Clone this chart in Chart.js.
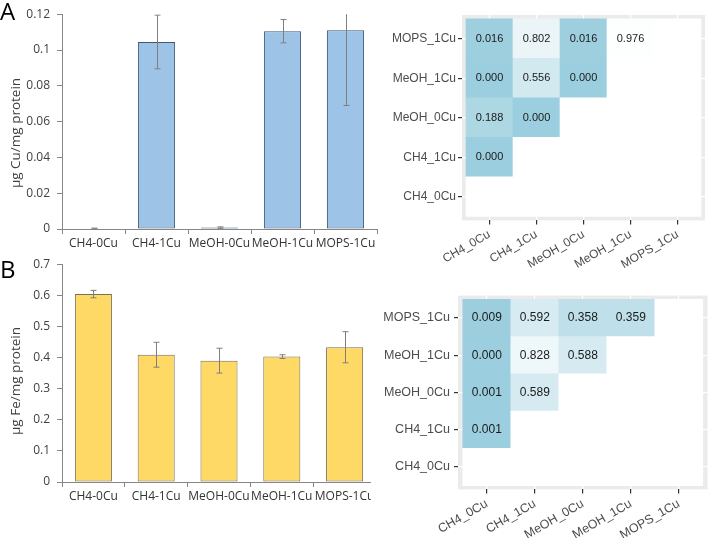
<!DOCTYPE html>
<html>
<head>
<meta charset="utf-8">
<script src="https://cdn.jsdelivr.net/npm/chart.js@4"></script>
<style>
  body { margin: 0; background: #fff; width: 709px; height: 538px; position: relative; overflow: hidden; }
  .panel { position: absolute; }
  .letra { position: absolute; font-family: 'Open Sans'; font-size: 24px; line-height: 24px; color: #000; }
</style>
</head>
<body>
<div class="panel" style="left:0;top:0"><canvas id="barrasCu" width="380" height="256"></canvas></div>
<div class="panel" style="left:0;top:250px;width:371px;height:288px;overflow:hidden"><canvas id="barrasFe" width="380" height="288"></canvas></div>
<div class="panel" style="left:360px;top:0"><canvas id="mapaCu" width="349" height="268"></canvas></div>
<div class="panel" style="left:360px;top:268px"><canvas id="mapaFe" width="349" height="270"></canvas></div>
<div class="letra" style="left:0;top:-1px">A</div>
<div class="letra" style="left:0;top:257px">B</div>
<script>
// muestras de las barras
const grupos = ['CH4-0Cu', 'CH4-1Cu', 'MeOH-0Cu', 'MeOH-1Cu', 'MOPS-1Cu'];
const cobre = [0.0003, 0.1045, 0.0008, 0.1105, 0.111];
const cobreError = [0.0002, 0.015, 0.0004, 0.0065, 0.042];
const hierro = [0.604, 0.409, 0.390, 0.403, 0.433];
const hierroError = [0.012, 0.040, 0.040, 0.006, 0.050];

// condiciones de las matrices de p (fila 0 = abajo)
const condiciones = ['CH4_0Cu', 'CH4_1Cu', 'MeOH_0Cu', 'MeOH_1Cu', 'MOPS_1Cu'];
const pCu = [
  [null, null, null, null, null],
  [0.000, null, null, null, null],
  [0.188, 0.000, null, null, null],
  [0.000, 0.556, 0.000, null, null],
  [0.016, 0.802, 0.016, 0.976, null]
];
const pFe = [
  [null, null, null, null, null],
  [0.001, null, null, null, null],
  [0.001, 0.589, null, null, null],
  [0.000, 0.828, 0.588, null, null],
  [0.009, 0.592, 0.358, 0.359, null]
];

const barrasError = {
  id: 'barrasError',
  afterDatasetsDraw(chart) {
    const { ctx, chartArea, scales: { y } } = chart;
    const ds = chart.data.datasets[0];
    ctx.save();
    ctx.beginPath();
    ctx.rect(chartArea.left, chartArea.top, chartArea.width, chartArea.height);
    ctx.clip();
    ctx.strokeStyle = '#7f7f7f';
    ctx.lineWidth = 1;
    chart.getDatasetMeta(0).data.forEach((barra, i) => {
      const y1 = y.getPixelForValue(ds.data[i] - ds.errores[i]);
      const y2 = y.getPixelForValue(ds.data[i] + ds.errores[i]);
      const x = Math.round(barra.x) + 0.5;
      ctx.beginPath();
      ctx.moveTo(x, y1); ctx.lineTo(x, y2);
      ctx.moveTo(x - 3, y1); ctx.lineTo(x + 3, y1);
      ctx.moveTo(x - 3, y2); ctx.lineTo(x + 3, y2);
      ctx.stroke();
    });
    ctx.restore();
  }
};

const tituloEje = {
  id: 'tituloEje',
  afterDraw(chart, args, opts) {
    const { ctx } = chart;
    ctx.save();
    ctx.translate(opts.x, opts.y);
    ctx.rotate(-Math.PI / 2);
    ctx.font = '13.5px "Open Sans"';
    ctx.fillStyle = '#404040';
    ctx.textAlign = 'center';
    ctx.textBaseline = 'middle';
    ctx.fillText(opts.texto, 0, 0);
    ctx.restore();
  }
};

function graficoBarras(id, valores, errores, relleno, borde, maxY, paso, titulo, caja) {
  new Chart(document.getElementById(id), {
    type: 'bar',
    data: {
      labels: grupos,
      datasets: [{
        data: valores,
        errores: errores,
        backgroundColor: relleno,
        borderColor: borde,
        borderWidth: 1,
        borderSkipped: false,
        barPercentage: 0.59,
        categoryPercentage: 1
      }]
    },
    options: {
      responsive: false,
      animation: false,
      layout: { padding: { top: caja.arriba, right: caja.derecha, left: 0, bottom: 0 } },
      plugins: {
        legend: { display: false },
        tooltip: { enabled: false },
        tituloEje: { texto: titulo, x: 16, y: caja.tituloY }
      },
      scales: {
        x: {
          grid: { offset: true, drawOnChartArea: false, color: '#868686', tickLength: 5 },
          border: { color: '#868686' },
          ticks: { color: '#333333', font: { family: 'Open Sans', size: 12 }, padding: 2, maxRotation: 0, autoSkip: false },
          afterFit: s => { s.height = caja.altoX; }
        },
        y: {
          min: 0,
          max: maxY,
          ticks: {
            stepSize: paso,
            color: '#404040',
            font: { family: 'Open Sans', size: 12 },
            padding: 7,
            callback: v => String(+v.toFixed(2))
          },
          grid: { drawOnChartArea: false, color: '#868686', tickLength: 5 },
          border: { color: '#868686' },
          afterFit: s => { s.width = 62; }
        }
      }
    },
    plugins: [barrasError, tituloEje]
  });
}

graficoBarras('barrasCu', cobre, cobreError, '#9dc3e6', '#3b5877', 0.12, 0.02,
  'µg Cu/mg protein', { arriba: 6, derecha: 3, altoX: 27, tituloY: 133 });
graficoBarras('barrasFe', hierro, hierroError, '#ffd966', '#7a6f50', 0.7, 0.1,
  'µg Fe/mg protein', { arriba: 8.7, derecha: 4, altoX: 56, tituloY: 131 });

// matrices de p
function colorP(p) {
  if (p === null) return '#ffffff';
  return `rgb(${Math.round(155 + 100 * p)},${Math.round(206 + 49 * p)},${Math.round(222 + 33 * p)})`;
}

const fondoPanel = {
  id: 'fondoPanel',
  beforeDraw(chart) {
    const { ctx, chartArea: a } = chart;
    ctx.save();
    ctx.fillStyle = '#ebebeb';
    ctx.fillRect(a.left, a.top, a.width, a.height);
    ctx.restore();
  }
};

const textoCeldas = {
  id: 'textoCeldas',
  afterDatasetsDraw(chart, args, opts) {
    const { ctx } = chart;
    ctx.save();
    ctx.font = opts.size + 'px "Liberation Sans"';
    ctx.fillStyle = '#1a1a1a';
    ctx.textAlign = 'center';
    ctx.textBaseline = 'middle';
    chart.data.datasets.forEach((ds, r) => {
      chart.getDatasetMeta(r).data.forEach((celda, c) => {
        const p = ds.valores[c];
        if (p === null) return;
        ctx.fillText(p.toFixed(3), celda.x, (celda.y + celda.base) / 2);
      });
    });
    ctx.restore();
  }
};

function mapaP(id, matriz, caja) {
  const fuente = { family: 'Liberation Sans', size: caja.fuente };
  new Chart(document.getElementById(id), {
    type: 'bar',
    data: {
      datasets: condiciones.map((fila, r) => ({
        label: fila,
        data: condiciones.map((_, c) => ({ x: c, y: [r - 0.5, r + 0.5] })),
        valores: matriz[r],
        backgroundColor: matriz[r].map(colorP),
        borderWidth: 0,
        barPercentage: 1,
        categoryPercentage: 1,
        grouped: false
      }))
    },
    options: {
      responsive: false,
      animation: false,
      layout: { padding: { top: caja.arriba, right: caja.derecha, left: 0, bottom: 0 } },
      plugins: {
        legend: { display: false },
        tooltip: { enabled: false },
        textoCeldas: { size: caja.fuenteValor }
      },
      scales: {
        x: {
          type: 'linear',
          offset: false,
          min: caja.xMin,
          max: caja.xMax,
          afterBuildTicks: s => { s.ticks = condiciones.map((_, i) => ({ value: i })); },
          ticks: { callback: v => condiciones[v], color: '#4d4d4d', font: fuente, minRotation: 30, maxRotation: 30, padding: 3, autoSkip: false },
          grid: { offset: false, color: '#ffffff', lineWidth: 1.2, tickColor: '#333333', tickLength: 4 },
          border: { display: false },
          afterFit: s => { s.height = caja.altoX; }
        },
        y: {
          min: -0.6,
          max: 4.6,
          afterBuildTicks: s => { s.ticks = condiciones.map((_, i) => ({ value: i })); },
          ticks: { callback: v => condiciones[v], color: '#4d4d4d', font: fuente, padding: caja.sepY, autoSkip: false },
          grid: { color: '#ffffff', lineWidth: 1.2, tickColor: '#333333', tickLength: 4 },
          border: { display: false },
          afterFit: s => { s.width = caja.anchoY; }
        }
      }
    },
    plugins: [fondoPanel, textoCeldas]
  });
}

mapaP('mapaCu', pCu, { arriba: 15, derecha: 4, altoX: 47.6, anchoY: 102, xMin: -0.585, xMax: 4.585, fuente: 12, fuenteValor: 11, sepY: 2 });
mapaP('mapaFe', pFe, { arriba: 27.6, derecha: 1.4, altoX: 48.6, anchoY: 98, xMin: -0.6, xMax: 4.6, fuente: 12.5, fuenteValor: 12, sepY: 4 });
</script>
</body>
</html>
